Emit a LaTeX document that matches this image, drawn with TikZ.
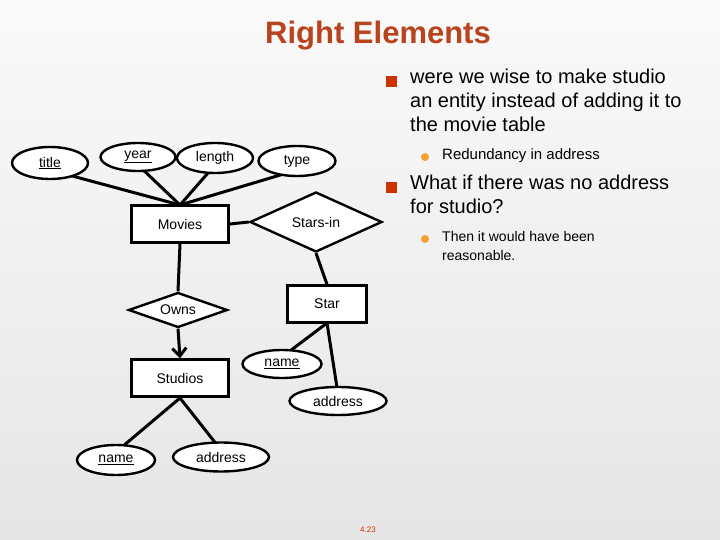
\documentclass[tikz,border=0pt]{standalone}
\usepackage{fontspec}
\setmainfont{Liberation Sans}
\usetikzlibrary{shapes.geometric,arrows.meta}
\definecolor{ttl}{HTML}{B8431C}
\definecolor{bul}{HTML}{CC3300}
\definecolor{sbul}{HTML}{F5A030}
\begin{document}
\begin{tikzpicture}[x=1pt,y=-1pt,
  attr/.style={ellipse,draw,line width=2.4pt,fill=white,inner sep=0pt,font=\fontsize{14}{16}\selectfont},
  ent/.style={rectangle,draw,line width=2.4pt,fill=white,inner sep=0pt,font=\fontsize{14}{16}\selectfont},
  rel/.style={diamond,draw,line width=2.4pt,fill=white,inner sep=0pt,aspect=2.2,font=\fontsize{14}{16}\selectfont},
  lk/.style={line width=3pt},
  txt/.style={anchor=west,inner sep=0pt,align=left}]
\shade[top color=black!2,bottom color=black!10] (0,0) rectangle (720,540);
\useasboundingbox (0,0) rectangle (720,540);
\node[text=ttl,font=\bfseries\fontsize{31}{34}\selectfont] (T) at (378,36) {Right Elements};
% diagram
\node[ent,minimum width=97,minimum height=37] (mov) at (180,224) {Movies};
\node[ent,minimum width=97,minimum height=37] (stu) at (180,378) {Studios};
\node[ent,minimum width=79,minimum height=37] (star) at (327,304) {Star};
\node[rel,minimum width=132,minimum height=60] (si) at (316,222) {Stars-in};
\node[rel,minimum width=99,minimum height=35] (own) at (178,310) {Owns};
\coordinate (mt) at (180,205);
\coordinate (sb) at (180,398);
\coordinate (stb) at (327,323);
\draw[lk] (mt) -- (50,170);
\draw[lk] (mt) -- (138,165);
\draw[lk] (mt) -- (215,165);
\draw[lk] (mt) -- (297,170);
\draw[lk] (mov.east) -- (si.west);
\draw[lk] (mov.south) -- (own.north);
\draw[lk,-{Straight Barb[length=8pt,width=14pt]}] (own.south) -- (stu.north);
\draw[lk] (si.south) -- (star.north);
\draw[lk] (sb) -- (116,452);
\draw[lk] (sb) -- (221,450);
\draw[lk] (stb) -- (282,357);
\draw[lk] (stb) -- (338,394);
\node[attr,minimum width=76,minimum height=32] (ti) at (50,163) {\underline{title}};
\node[attr,minimum width=75,minimum height=28] (yr) at (138,157) {\underline{year}};
\node[attr,minimum width=76,minimum height=30] (ln) at (215,158) {length};
\node[attr,minimum width=77,minimum height=30] (ty) at (297,161) {type};
\node[attr,minimum width=79,minimum height=28] (sn) at (282,364) {\underline{name}};
\node[attr,minimum width=97,minimum height=28] (sa) at (338,401) {address};
\node[attr,minimum width=78,minimum height=30] (un) at (116,460) {\underline{name}};
\node[attr,minimum width=96,minimum height=29] (ua) at (221,457) {address};
% text
\fill[bul] (386,76) rectangle (397,87);
\fill[bul] (386,182) rectangle (397,193);
\fill[sbul] (425,157) circle (4);
\fill[sbul] (425,239) circle (4);
\node[txt,anchor=north west,font=\fontsize{20}{24}\selectfont] (b1) at (410,69) {were we wise to make studio\\an entity instead of adding it to\\the movie table};
\node[txt,font=\fontsize{15}{19}\selectfont] (s1) at (442,156) {Redundancy in address};
\node[txt,anchor=north west,font=\fontsize{20}{24}\selectfont] (b2) at (410,175) {What if there was no address\\for studio?};
\node[txt,anchor=north west,font=\fontsize{14}{19}\selectfont] (s2) at (442,231) {Then it would have been\\reasonable.};
\node[text=bul,font=\fontsize{8}{9}\selectfont] (pg) at (368,530) {4.23};
\end{tikzpicture}
\end{document}
